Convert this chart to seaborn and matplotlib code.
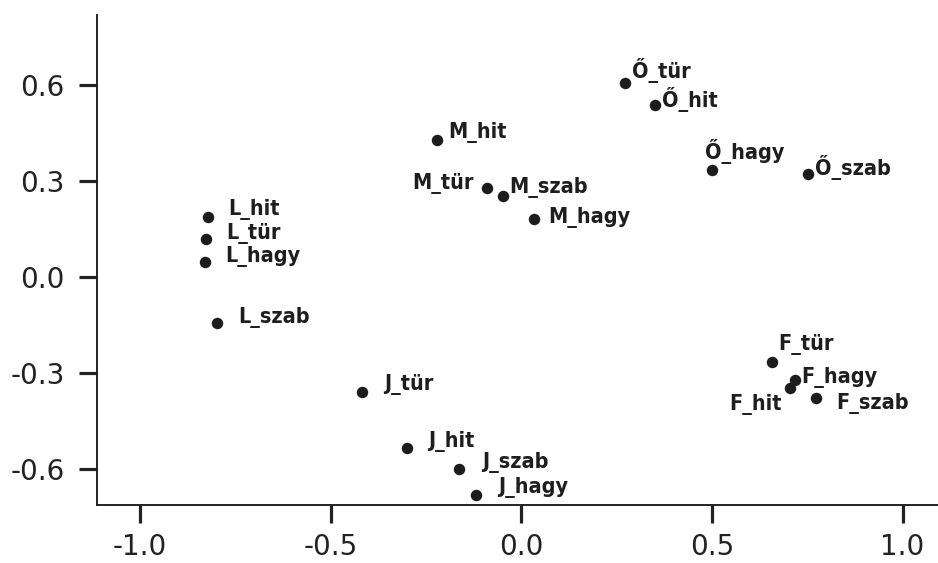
import numpy as np
import pandas as pd
import matplotlib
matplotlib.use("Agg")
import matplotlib.pyplot as plt
import seaborn as sns

# ---- data ----
labels = ["L_hit", "L_tür", "L_hagy", "L_szab",
          "M_hit", "M_tür", "M_szab", "M_hagy",
          "Ő_tür", "Ő_hit", "Ő_hagy", "Ő_szab",
          "J_tür", "J_hit", "J_szab", "J_hagy",
          "F_tür", "F_hagy", "F_hit", "F_szab"]
x_vals = [-0.821, -0.827, -0.830, -0.799,
          -0.221, -0.090, -0.049, 0.034,
          0.271, 0.350, 0.501, 0.752,
          -0.419, -0.299, -0.164, -0.120,
          0.658, 0.717, 0.706, 0.774]
y_vals = [0.188, 0.119, 0.048, -0.144,
          0.427, 0.277, 0.251, 0.181,
          0.606, 0.537, 0.334, 0.320,
          -0.358, -0.534, -0.600, -0.680,
          -0.264, -0.321, -0.345, -0.377]
x_ticks = [-1.0, -0.5, 0.0, 0.5, 1.0]
y_ticks = [-0.6, -0.3, 0.0, 0.3, 0.6]

# ---- label layout (pixel offsets, screen y down; ha) ----
label_offsets = {
    "L_hit": (20, -2, "left"), "L_tür": (20, 0, "left"),
    "L_hagy": (20, 0, "left"), "L_szab": (21, 0, "left"),
    "M_hit": (11, -2, "left"), "M_tür": (-13, 1, "right"),
    "M_szab": (7, -3, "left"), "M_hagy": (14, 4, "left"),
    "Ő_tür": (7, -5, "left"), "Ő_hit": (7, 2, "left"),
    "Ő_hagy": (-7, -11, "left"), "Ő_szab": (7, 1, "left"),
    "J_tür": (22, -2, "left"), "J_hit": (21, -1, "left"),
    "J_szab": (23, -1, "left"), "J_hagy": (23, -2, "left"),
    "F_tür": (6, -12, "left"), "F_hagy": (7, 3, "left"),
    "F_hit": (-9, 22, "right"), "F_szab": (20, 11, "left"),
}

df = pd.DataFrame({"label": labels, "x": x_vals, "y": y_vals})

sns.set_style("ticks")
plt.rcParams["font.family"] = ["DejaVu Sans"]

fig = plt.figure(figsize=(9.38, 5.63), dpi=100)
ax = fig.add_axes([0.1031, 0.103, 0.8969, 0.8704])

sns.scatterplot(data=df, x="x", y="y", ax=ax, s=68, color="#1c1c1c",
                linewidth=0, legend=False, zorder=3)

for lab, xv, yv in zip(labels, x_vals, y_vals):
    dx, dy, ha = label_offsets[lab]
    ax.annotate(lab, (xv, yv), xytext=(dx, -dy), textcoords="offset pixels",
                ha=ha, va="baseline", fontsize=15.5, fontweight="bold",
                fontstretch="condensed", color="#1e1e1e",
                family=["DejaVu Sans"])

ax.set_xlim(-1.114, 1.093)
ax.set_ylim(-0.711, 0.817)
ax.set_xticks(x_ticks)
ax.set_yticks(y_ticks)
ax.set_xticklabels([f"{v:.1f}" for v in x_ticks])
ax.set_yticklabels([f"{v:.1f}" for v in y_ticks])
ax.set_xlabel("")
ax.set_ylabel("")

for side in ["top", "right"]:
    ax.spines[side].set_visible(False)
for side in ["left", "bottom"]:
    ax.spines[side].set_linewidth(1.4)
    ax.spines[side].set_color("#222222")

ax.tick_params(axis="both", direction="out", length=13, width=2.3,
               color="#222222", labelsize=20, labelcolor="#222222")
ax.tick_params(axis="y", pad=10)
ax.tick_params(axis="x", pad=7)

fig.savefig("out.png", dpi=100)
